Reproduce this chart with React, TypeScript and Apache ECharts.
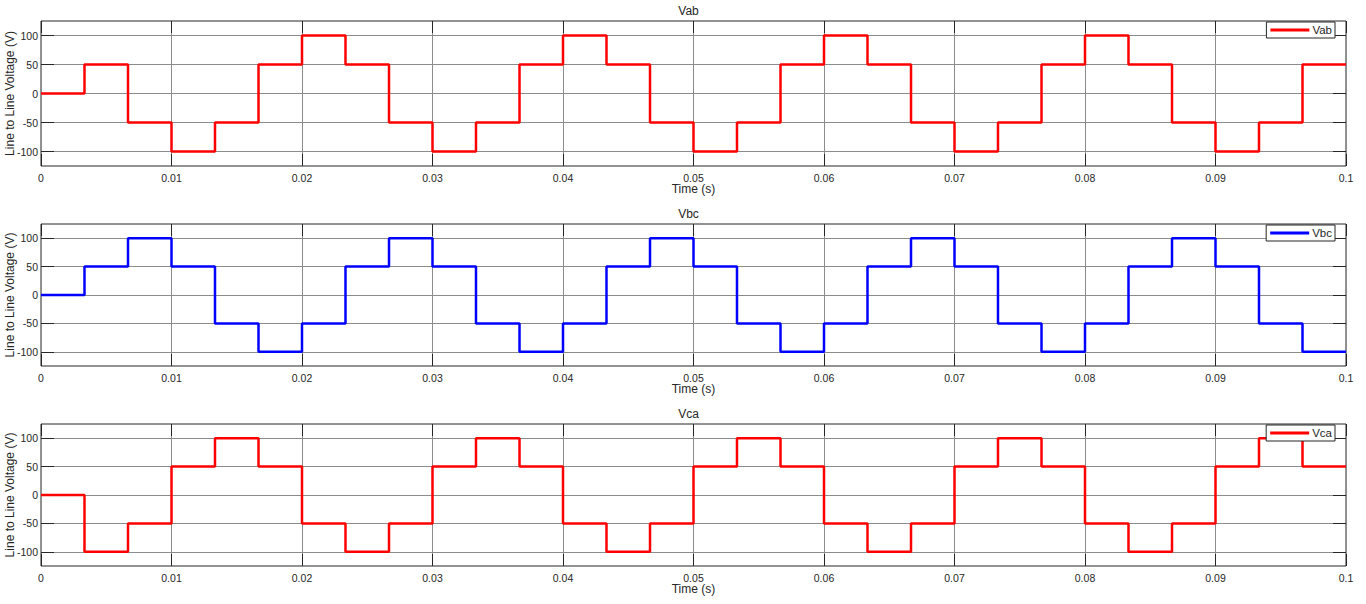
import React, { useEffect, useRef } from 'react';
import * as echarts from 'echarts';

// Segment boundaries (s): six-step inverter, 1/300 s per step
const stepTimes = [
  0, 0.003333, 0.006667, 0.01, 0.013333, 0.016667, 0.02, 0.023333, 0.026667, 0.03,
  0.033333, 0.036667, 0.04, 0.043333, 0.046667, 0.05, 0.053333, 0.056667, 0.06, 0.063333,
  0.066667, 0.07, 0.073333, 0.076667, 0.08, 0.083333, 0.086667, 0.09, 0.093333, 0.096667, 0.1,
];

// Voltage level held during each segment (V)
const vabLevels = [
  0, 50, -50, -100, -50, 50, 100, 50, -50, -100,
  -50, 50, 100, 50, -50, -100, -50, 50, 100, 50,
  -50, -100, -50, 50, 100, 50, -50, -100, -50, 50,
];
const vbcLevels = [
  0, 50, 100, 50, -50, -100, -50, 50, 100, 50,
  -50, -100, -50, 50, 100, 50, -50, -100, -50, 50,
  100, 50, -50, -100, -50, 50, 100, 50, -50, -100,
];
const vcaLevels = [
  0, -100, -50, 50, 100, 50, -50, -100, -50, 50,
  100, 50, -50, -100, -50, 50, 100, 50, -50, -100,
  -50, 50, 100, 50, -50, -100, -50, 50, 100, 50,
];

const seriesNames = ['Vab', 'Vbc', 'Vca'];
const seriesLevels = [vabLevels, vbcLevels, vcaLevels];
const seriesColors = ['#ff0000', '#0000ff', '#ff0000'];
const yTickValues = [-100, -50, 0, 50, 100];
const xLabel = 'Time (s)';
const yLabel = 'Line to Line Voltage (V)';

const W = 1366;
const H = 604;
const plotLeft = 41;
const plotRight = 1346;
const gridTops = [21, 224, 424];
const gridHeights = [145, 142, 142];

const FONT = "'Liberation Sans', Arial, Helvetica, sans-serif";
const TXT = '#262626';

function toSteps(levels: number[]) {
  return stepTimes.map((t, i) => [t, levels[Math.min(i, levels.length - 1)]]);
}

export default function App() {
  const ref = useRef<HTMLDivElement>(null);

  useEffect(() => {
    document.body.style.margin = '0';
    if (!ref.current) return;
    const chart = echarts.init(ref.current, undefined, { renderer: 'svg' });

    const grids: any[] = [];
    const xAxes: any[] = [];
    const yAxes: any[] = [];
    const series: any[] = [];
    const legends: any[] = [];
    const graphics: any[] = [];

    seriesNames.forEach((name, i) => {
      grids.push({
        left: plotLeft,
        width: plotRight - plotLeft,
        top: gridTops[i],
        height: gridHeights[i],
        containLabel: false,
        outerBoundsMode: 'none',
        show: true,
        borderColor: TXT,
        borderWidth: 1,
        backgroundColor: '#ffffff',
      });
      // bottom x axis
      xAxes.push({
        gridIndex: i,
        type: 'value',
        position: 'bottom',
        min: 0,
        max: 0.1,
        interval: 0.01,
        axisLine: { show: false, onZero: false },
        axisTick: { show: true, inside: true, length: 12, lineStyle: { color: TXT } },
        axisLabel: { show: true, color: TXT, fontSize: 10.5, fontFamily: FONT, margin: 6 },
        splitLine: { show: true, lineStyle: { color: '#8c8c8c', width: 1 } },
        name: xLabel,
        nameLocation: 'middle',
        nameGap: 17,
        nameMoveOverlap: false,
        nameTextStyle: { color: TXT, fontSize: 12, fontFamily: FONT },
      });
      // top x axis (ticks only)
      xAxes.push({
        gridIndex: i,
        type: 'value',
        position: 'top',
        min: 0,
        max: 0.1,
        interval: 0.01,
        axisLine: { show: false, onZero: false },
        axisTick: { show: true, inside: true, length: 12, lineStyle: { color: TXT } },
        axisLabel: { show: false },
        splitLine: { show: false },
      });
      // left y axis
      yAxes.push({
        gridIndex: i,
        type: 'value',
        position: 'left',
        min: -125,
        max: 125,
        axisLine: { show: false, onZero: false },
        axisTick: { show: true, inside: true, length: 13, customValues: yTickValues, lineStyle: { color: TXT } },
        axisLabel: { show: true, customValues: yTickValues, color: TXT, fontSize: 10.5, fontFamily: FONT, margin: 3 },
        splitLine: { show: true, lineStyle: { color: '#8c8c8c', width: 1 } },
      });
      // right y axis (ticks only)
      yAxes.push({
        gridIndex: i,
        type: 'value',
        position: 'right',
        min: -125,
        max: 125,
        axisLine: { show: false, onZero: false },
        axisTick: { show: true, inside: true, length: 13, customValues: yTickValues, lineStyle: { color: TXT } },
        axisLabel: { show: false, customValues: yTickValues },
        splitLine: { show: false },
      });

      series.push({
        name,
        type: 'line',
        xAxisIndex: 2 * i,
        yAxisIndex: 2 * i,
        step: 'end',
        showSymbol: false,
        symbol: 'none',
        color: seriesColors[i],
        lineStyle: { color: seriesColors[i], width: 2.5 },
        data: toSteps(seriesLevels[i]),
        z: 3,
      });

      legends.push({
        data: [name],
        right: W - 1335,
        top: gridTops[i] + 1,
        orient: 'horizontal',
        icon: 'rect',
        itemWidth: 39,
        itemHeight: 3,
        selectedMode: false,
        backgroundColor: '#ffffff',
        borderColor: TXT,
        borderWidth: 1,
        borderRadius: 0,
        padding: [2, 3, 2, 4],
        textStyle: { color: TXT, fontSize: 11.5, fontFamily: FONT, padding: [0, 0, 0, -2] },
        z: 10,
      });

      // subplot title
      graphics.push({
        type: 'text',
        x: (plotLeft + plotRight) / 2 - 5,
        y: gridTops[i] - 10,
        style: {
          text: name,
          fill: TXT,
          font: `12px ${FONT}`,
          textAlign: 'center',
          textVerticalAlign: 'middle',
        },
      });
      // y-axis label
      graphics.push({
        type: 'text',
        x: 10,
        y: gridTops[i] + gridHeights[i] / 2,
        rotation: Math.PI / 2,
        style: {
          text: yLabel,
          fill: TXT,
          font: `12px ${FONT}`,
          textAlign: 'center',
          textVerticalAlign: 'middle',
        },
      });
    });

    chart.setOption({
      animation: false,
      backgroundColor: '#ffffff',
      grid: grids,
      xAxis: xAxes,
      yAxis: yAxes,
      series,
      legend: legends,
      graphic: graphics,
    });

    return () => {
      chart.dispose();
    };
  }, []);

  return <div ref={ref} style={{ width: W, height: H }} />;
}
